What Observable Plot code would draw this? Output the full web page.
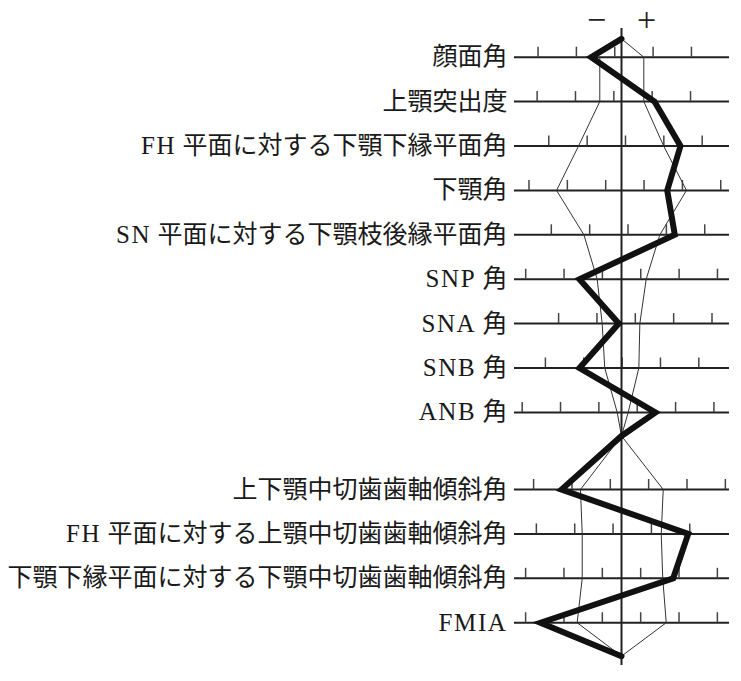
<!DOCTYPE html>
<html>
<head>
<meta charset="utf-8">
<script src="https://cdn.jsdelivr.net/npm/d3@7"></script>
<script src="https://cdn.jsdelivr.net/npm/@observablehq/plot@0.6"></script>
<style>
  html, body { margin: 0; padding: 0; background: #fff; }
</style>
</head>
<body>
<div id="chart"></div>
<script>
// Measurement names (top: skeletal, bottom: dental)
const labels = [
  "顔面角",
  "上顎突出度",
  "FH 平面に対する下顎下縁平面角",
  "下顎角",
  "SN 平面に対する下顎枝後縁平面角",
  "SNP 角",
  "SNA 角",
  "SNB 角",
  "ANB 角",
  "上下顎中切歯歯軸傾斜角",
  "FH 平面に対する上顎中切歯歯軸傾斜角",
  "下顎下縁平面に対する下顎中切歯歯軸傾斜角",
  "FMIA"
];
// Patient deviation from the norm (degrees, 5° per tick interval)
const patient = [-3.95, 4.3, 7.69, 5.96, 6.95, -5.48, -0.35, -5.48, 4.43, -7.82, 8.7, 6.74, -10.56];
// Norm -1SD / +1SD (degrees from the mean)
const sdMinus = [-2.83, -2.83, -5.6, -8.47, -4.9, -3.17, -2.52, -2.18, -0.56, -5.35, -5.12, -5.12, -5.78];
const sdPlus  = [ 2.91,  2.91,  5.5,  8.47,  5.0,  3.22,  2.39,  2.26,  0.87,  5.44,  5.18,  5.38,  5.83];
// Tick marks (every 5°) of each scale, relative to the mean
const tickOffsets = [
  [-10.88, -5.88, -0.88, 4.12, 9.12],
  [-11, -6, -1, 4, 9],
  [-9.48, -4.48, 0.52, 5.52, 10.52],
  [-12.06, -7.06, -2.06, 2.94, 7.94, 12.94],
  [-9.15, -4.15, 0.85, 5.85, 10.85],
  [-12.49, -7.49, -2.49, 2.51, 7.51, 12.51],
  [-8.2, -3.2, 1.8, 6.8, 11.8],
  [-9.92, -4.92, 0.08, 5.08, 10.08],
  [-12.95, -7.95, -2.95, 2.05, 7.05, 12.05],
  [-11.46, -6.46, -1.46, 3.54, 8.54, 13.54],
  [-11.1, -6.1, -1.1, 3.9, 8.9],
  [-12.5, -7.5, -2.5, 2.5, 7.5, 12.5],
  [-12.5, -7.5, -2.5, 2.5, 7.5, 12.5]
];
const signLabels = ["−", "+"];
const signX = [-3.26, 3.26];

// ---- layout (row index units) ----
const SKELETAL = 9;
const GAP = 0.737;
const rowY = i => (i < SKELETAL ? i : i + GAP);
const Y_TOP = -0.414, Y_MID = 8.53, Y_BOT = 13.49;
const AXIS_L = -13.95, AXIS_R = 14.08;
const TICK_LEN = 10 / 44.4;

const rows = labels.map((name, i) => ({ name, y: rowY(i), p: patient[i], lo: sdMinus[i], hi: sdPlus[i] }));
const upper = rows.slice(0, SKELETAL), lower = rows.slice(SKELETAL);

const patientPts = [
  { x: 0, y: Y_TOP },
  ...upper.map(r => ({ x: r.p, y: r.y })),
  { x: 0, y: Y_MID },
  ...lower.map(r => ({ x: r.p, y: r.y })),
  { x: 0, y: Y_BOT }
];
const sdPts = [
  ...[{ x: 0, y: Y_TOP }, ...upper.map(r => ({ x: r.hi, y: r.y })), { x: 0, y: Y_MID }].map(d => ({ ...d, s: "hiU" })),
  ...[...upper.map(r => ({ x: r.lo, y: r.y })), { x: 0, y: Y_MID }].map(d => ({ ...d, s: "loU" })),
  ...[{ x: 0, y: Y_MID }, ...lower.map(r => ({ x: r.hi, y: r.y })), { x: 0, y: Y_BOT }].map(d => ({ ...d, s: "hiL" })),
  ...[{ x: 0, y: Y_MID }, ...lower.map(r => ({ x: r.lo, y: r.y })), { x: 0, y: Y_BOT }].map(d => ({ ...d, s: "loL" }))
];
const tickData = rows.flatMap((r, i) => tickOffsets[i].map(t => ({ x: t, y: r.y })));

const W = 741, H = 681;
const PX_PER_UNIT = 7.67, CX = 621, ROW_PX = 44.4, ROW0 = 56.7;
const FONT = "'Liberation Serif', 'Noto Sans CJK JP', serif";

const chart = Plot.plot({
  width: W,
  height: H,
  margin: 0,
  style: { background: "#fff", fontFamily: FONT },
  x: { domain: [-CX / PX_PER_UNIT, (W - CX) / PX_PER_UNIT], range: [0, W], axis: null },
  y: { domain: [-ROW0 / ROW_PX, (H - ROW0) / ROW_PX], range: [0, H], axis: null },
  marks: [
    Plot.ruleY(rows, { y: "y", x1: AXIS_L, x2: AXIS_R, stroke: "#222", strokeWidth: 2 }),
    Plot.ruleX(tickData, { x: "x", y1: "y", y2: d => d.y - TICK_LEN, stroke: "#444", strokeWidth: 1.5 }),
    Plot.ruleX([0], { y1: -0.646, y2: 13.70, stroke: "#222", strokeWidth: 2 }),
    Plot.line(sdPts, { x: "x", y: "y", z: "s", stroke: "#333", strokeWidth: 1, curve: "linear" }),
    Plot.line(patientPts, { x: "x", y: "y", stroke: "#111", strokeWidth: 6, strokeLinejoin: "miter", strokeMiterlimit: 10 }),
    Plot.text(rows, { x: AXIS_L, y: "y", text: "name", textAnchor: "end", dx: -7, fontSize: 25, fill: "#1a1a1a", fontFamily: FONT }),
    Plot.text(signLabels, { x: signX, y: -0.836, text: d => d, fontSize: 34, fill: "#222", fontFamily: "'Liberation Serif', serif" })
  ]
});

// Latin runs in the labels are set with wider tracking, as in the reference typesetting
const labelSet = new Set(labels);
chart.querySelectorAll("text").forEach(t => {
  const s = t.textContent;
  if (!labelSet.has(s)) return;
  t.textContent = "";
  s.split(/([A-Za-z]+)/).filter(p => p.length).forEach(part => {
    const ts = document.createElementNS("http://www.w3.org/2000/svg", "tspan");
    ts.textContent = part;
    if (/^[A-Za-z]+$/.test(part)) ts.setAttribute("letter-spacing", "1.6");
    t.appendChild(ts);
  });
});

document.getElementById("chart").appendChild(chart);
</script>
</body>
</html>
